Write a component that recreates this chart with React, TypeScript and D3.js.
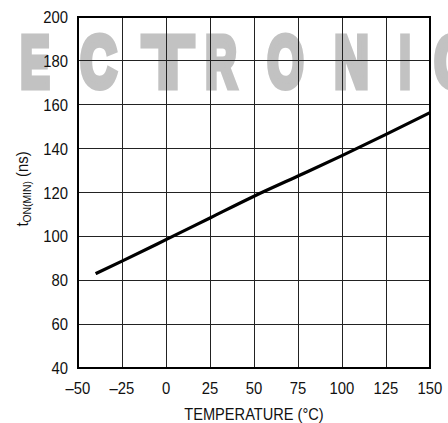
import React from "react";
import * as d3 from "d3";

const temps = [-40, -25, 0, 25, 50, 75, 100, 125, 150];
const tonMin = [83, 88.7, 98.5, 108.4, 118.3, 127.5, 136.8, 146.5, 156.4];
const xTicks = [-50, -25, 0, 25, 50, 75, 100, 125, 150];
const yTicks = [40, 60, 80, 100, 120, 140, 160, 180, 200];
const xTitle = "TEMPERATURE (°C)";

const watermark = [
  { ch: "E", x: 17, w: 36 },
  { ch: "C", x: 77, w: 43 },
  { ch: "T", x: 140, w: 56 },
  { ch: "R", x: 202, w: 38 },
  { ch: "O", x: 264, w: 43 },
  { ch: "N", x: 331, w: 41 },
  { ch: "I", x: 396, w: 18 },
  { ch: "C", x: 431, w: 43 },
];

const fmt = (v: number) => (v < 0 ? "\u2013" + Math.abs(v) : String(v));

export default function App() {
  const x = d3.scaleLinear().domain([-50, 150]).range([78, 430]);
  const y = d3.scaleLinear().domain([40, 200]).range([368, 17]);
  const line = d3
    .line<number>()
    .x((_, i) => x(temps[i]))
    .y((d) => y(d))
    .curve(d3.curveMonotoneX);
  const font = "'Liberation Sans', Arial, sans-serif";
  const sx = 0.9;
  const sw = 7;

  return (
    <div style={{ position: "absolute", left: 0, top: 0 }}>
      <svg width={448} height={423} style={{ display: "block", background: "#fff" }}>
        <g
          fill="#c2c2c2"
          stroke="#c2c2c2"
          strokeWidth={sw}
          strokeLinejoin="miter"
          fontFamily={font}
          fontWeight="bold"
          fontSize={72}
        >
          {watermark.map((l, i) => (
            <text
              key={i}
              x={l.x + sw / 2}
              y={90 - sw / 2}
              textLength={Math.max(6, l.w - sw)}
              lengthAdjust="spacingAndGlyphs"
            >
              {l.ch}
            </text>
          ))}
        </g>
        <g stroke="#222" strokeWidth={1} shapeRendering="crispEdges">
          {xTicks.map((t) => (
            <line key={"vx" + t} x1={x(t)} x2={x(t)} y1={y(40)} y2={y(200)} />
          ))}
          {yTicks.map((t) => (
            <line key={"hy" + t} x1={x(-50)} x2={x(150)} y1={y(t)} y2={y(t)} />
          ))}
        </g>
        <rect
          x={x(-50)}
          y={y(200)}
          width={x(150) - x(-50)}
          height={y(40) - y(200)}
          fill="none"
          stroke="#000"
          strokeWidth={2}
        />
        <path d={line(tonMin) || ""} fill="none" stroke="#000" strokeWidth={3.2} strokeLinecap="butt" />
        <g fontFamily={font} fontSize={16.5} fill="#111">
          {yTicks.map((t) => (
            <g key={"yl" + t} transform={`translate(68,${y(t) + 6}) scale(${sx},1)`}>
              <text textAnchor="end">{fmt(t)}</text>
            </g>
          ))}
          {xTicks.map((t) => (
            <g key={"xl" + t} transform={`translate(${x(t)},393.5) scale(${sx},1)`}>
              <text textAnchor="middle">{fmt(t)}</text>
            </g>
          ))}
          <g transform={`translate(254,420) scale(0.885,1)`}>
            <text textAnchor="middle">{xTitle}</text>
          </g>
          <g transform={`translate(28,189) rotate(-90) scale(${sx},1)`}>
            <text textAnchor="middle">
              t
              <tspan fontSize={11.5} dy={3}>ON(MIN)</tspan>
              <tspan dy={-3}> (ns)</tspan>
            </text>
          </g>
        </g>
      </svg>
    </div>
  );
}
